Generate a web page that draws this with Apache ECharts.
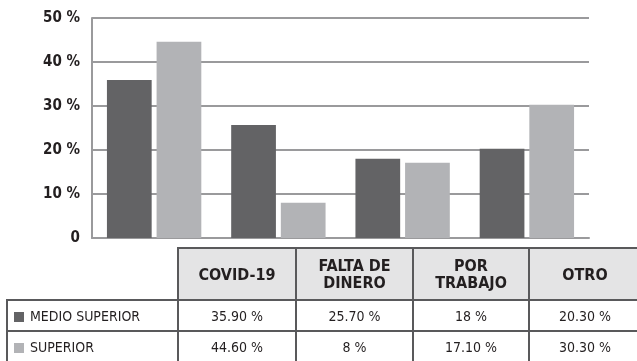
<!DOCTYPE html>
<html>
<head>
<meta charset="utf-8">
<script src="https://cdn.jsdelivr.net/npm/echarts@6/dist/echarts.min.js"></script>
<style>
  html, body { margin: 0; padding: 0; background: #fff; }
  #wrap { position: relative; width: 637px; height: 361px; overflow: hidden; }
  #chart { position: absolute; left: 0; top: 0; width: 637px; height: 361px; }
  #tbl { position: absolute; left: 6px; top: 247px; width: 634px; border-collapse: collapse; table-layout: fixed;
    font-family: "DejaVu Sans Condensed", "Liberation Sans Narrow", sans-serif; color: #231f20; }
  #tbl td, #tbl th { border: 2px solid #59595b; padding: 0; text-align: center; font-size: 14px; }
  #tbl th { background: #e4e4e5; font-weight: bold; font-size: 16px; line-height: 17px; height: 50px; }
  #tbl th.blank { background: none; border: none; border-bottom: 2px solid #59595b; }
  #tbl td { height: 29px; background: #fff; }
  #tbl td.name { text-align: left; padding-left: 6px; }
  .sw { display: inline-block; width: 10px; height: 10px; margin-right: 6px; vertical-align: -1px; }
</style>
</head>
<body>
<div id="wrap">
  <div id="chart"></div>
  <table id="tbl"></table>
</div>
<script>
  const categories = ['COVID-19', 'FALTA DE DINERO', 'POR TRABAJO', 'OTRO']
  const headerLabels = ['COVID-19', 'FALTA DE<br>DINERO', 'POR<br>TRABAJO', 'OTRO']
  const seriesNames = ['MEDIO SUPERIOR', 'SUPERIOR']
  const medioSuperior = [35.9, 25.7, 18, 20.3]
  const superior = [44.6, 8, 17.1, 30.3]
  const cellText = [
    ['35.90 %', '25.70 %', '18 %', '20.30 %'],
    ['44.60 %', '8 %', '17.10 %', '30.30 %']
  ]
  const colors = ['#636365', '#b2b3b6']

  ; (function () {
    const myChart = echarts.init(document.getElementById('chart'))
    const option = {
      animation: false,
      color: colors,
      grid: { left: 92, right: 48, top: 18, bottom: 123 },
      xAxis: {
        type: 'category',
        data: categories,
        axisLine: { lineStyle: { color: '#9a9a9c', width: 2 } },
        axisTick: { show: false },
        axisLabel: { show: false }
      },
      yAxis: {
        type: 'value',
        min: 0,
        max: 50,
        interval: 10,
        axisLine: { show: true, lineStyle: { color: '#9a9a9c', width: 2 } },
        axisTick: { show: false },
        splitLine: { lineStyle: { color: '#9a9a9c', width: 2 } },
        axisLabel: {
          margin: 12,
          color: '#231f20',
          fontWeight: 'bold',
          fontSize: 15,
          fontFamily: 'DejaVu Sans Condensed',
          formatter: function (v) { return v === 0 ? '0' : v + ' %' }
        }
      },
      series: [
        { name: seriesNames[0], type: 'bar', data: medioSuperior, barWidth: '36%', barGap: '11%' },
        { name: seriesNames[1], type: 'bar', data: superior, barWidth: '36%', barGap: '11%' }
      ]
    }
    myChart.setOption(option)

    // table under the chart
    const widths = [171, 118, 117, 116, 112]
    let html = '<colgroup>' + widths.map(w => '<col style="width:' + w + 'px">').join('') + '</colgroup>'
    html += '<tr><th class="blank"></th>' + headerLabels.map(h => '<th>' + h + '</th>').join('') + '</tr>'
    seriesNames.forEach((n, i) => {
      html += '<tr><td class="name"><span class="sw" style="background:' + colors[i] + '"></span>' + n + '</td>' +
        cellText[i].map(t => '<td>' + t + '</td>').join('') + '</tr>'
    })
    document.getElementById('tbl').innerHTML = html

    window.addEventListener('resize', function () {
      myChart.resize()
    })
  })()
</script>
</body>
</html>
